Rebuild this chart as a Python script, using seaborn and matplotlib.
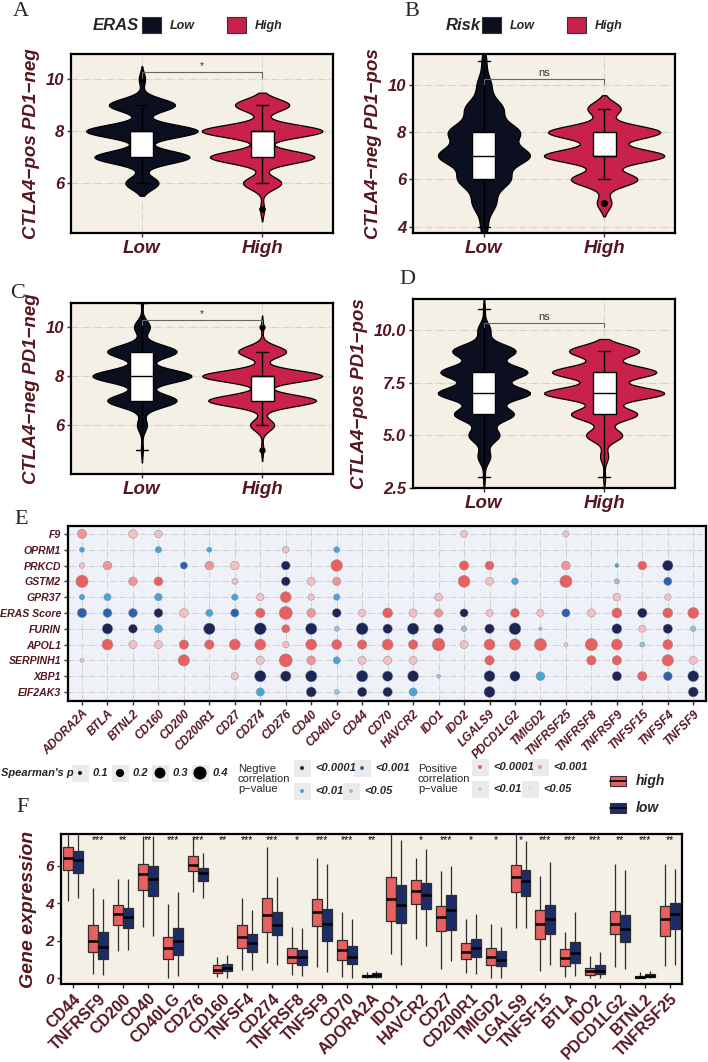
import numpy as np
import pandas as pd
import matplotlib
matplotlib.use("Agg")
import matplotlib.pyplot as plt
from matplotlib.patches import Patch, Rectangle
import seaborn as sns

sns.set_theme(style="white")
plt.rcParams["font.family"] = ["Liberation Sans", "DejaVu Sans"]

W, H = 708, 1062
MAROON = "#55171f"
LOW_C = "#0b0f1f"
HIGH_C = "#c8224a"
BEIGE = "#f4f0e6"
GRID = "#d2d2d2"

# ---------------- violin panels: score levels and number of samples at each level
groups = ["Low", "High"]
a_low_vals, a_low_n = [6, 7, 8, 9, 10], [16, 46, 54, 32, 3]
a_high_vals, a_high_n = [5, 6, 7, 8, 9], [2, 19, 52, 60, 27]
b_low_vals, b_low_n = [4, 5, 6, 7, 8, 9, 10, 11], [3, 10, 22, 39, 30, 16, 6, 2]
b_high_vals, b_high_n = [5, 6, 7, 8, 9], [7, 32, 58, 54, 16]
c_low_vals, c_low_n = [5, 6, 7, 8, 9, 10, 11], [1, 5, 35, 50, 35, 8, 1]
c_high_vals, c_high_n = [5, 6, 7, 8, 9, 10], [1, 10, 45, 50, 20, 1]
d_low_vals, d_low_n = [3, 4, 5, 6, 7, 8, 9, 10, 11], [1, 7, 17, 33, 51, 48, 35, 7, 1]
d_high_vals, d_high_n = [3, 4, 5, 6, 7, 8, 9], [1, 4, 18, 33, 60, 52, 35]

# ---------------- panel E: spearman rho (signed) and p level (4:<0.0001 3:<0.001 2:<0.01 1:<0.05)
icp_genes = ["ADORA2A", "BTLA", "BTNL2", "CD160", "CD200", "CD200R1", "CD27", "CD274",
             "CD276", "CD40", "CD40LG", "CD44", "CD70", "HAVCR2", "IDO1", "IDO2", "LGALS9",
             "PDCD1LG2", "TMIGD2", "TNFRSF25", "TNFRSF8", "TNFRSF9", "TNFSF15", "TNFSF4", "TNFSF9"]
row_genes = ["F9", "OPRM1", "PRKCD", "GSTM2", "GPR37", "ERAS Score", "FURIN", "APOL1",
             "SERPINH1", "XBP1", "EIF2AK3"]

dots_F9 = [("ADORA2A", .24, 3), ("BTNL2", .22, 2), ("CD160", .18, 2), ("IDO2", .17, 2),
           ("TNFRSF25", .15, 2)]
dots_OPRM1 = [("ADORA2A", -.12, 2), ("CD160", -.15, 2), ("CD200R1", -.12, 2), ("CD276", .16, 2),
              ("CD40LG", -.14, 2)]
dots_PRKCD = [("ADORA2A", .13, 2), ("BTLA", .22, 3), ("CD200", -.17, 3), ("CD200R1", .22, 3),
              ("CD27", .22, 2), ("CD276", -.22, 4), ("CD40LG", .33, 4), ("IDO2", .24, 4),
              ("LGALS9", .22, 4), ("TNFRSF25", .22, 3), ("TNFRSF9", -.1, 2), ("TNFSF15", .22, 4),
              ("TNFSF4", -.28, 4)]
dots_GSTM2 = [("ADORA2A", .36, 4), ("BTNL2", .22, 3), ("CD160", .22, 4), ("CD27", .14, 2),
              ("CD276", -.22, 4), ("CD40", .2, 2), ("CD40LG", .2, 3), ("IDO2", .34, 4),
              ("LGALS9", .2, 2), ("PDCD1LG2", -.16, 2), ("TNFRSF25", .36, 4), ("TNFRSF9", -.12, 1),
              ("TNFSF4", -.2, 3)]
dots_GPR37 = [("ADORA2A", -.13, 2), ("BTLA", -.17, 2), ("CD160", -.18, 2), ("CD27", -.15, 2),
              ("CD274", .18, 2), ("CD276", .3, 4), ("CD40", .15, 2), ("CD40LG", -.15, 2),
              ("IDO1", .19, 2), ("TNFRSF9", .19, 2), ("TNFSF4", .15, 2)]
dots_ERAS = [("ADORA2A", -.24, 3), ("BTLA", -.22, 3), ("BTNL2", -.22, 3), ("CD160", -.22, 4),
             ("CD200", .22, 2), ("CD200R1", -.17, 2), ("CD27", -.2, 3), ("CD274", .24, 4),
             ("CD276", .42, 4), ("CD40", .22, 3), ("CD40LG", -.22, 4), ("CD44", .18, 2),
             ("CD70", .26, 4), ("HAVCR2", .2, 2), ("IDO1", .2, 3), ("IDO2", -.2, 4),
             ("LGALS9", .17, 2), ("PDCD1LG2", .22, 4), ("TMIGD2", .17, 2), ("TNFRSF25", -.2, 3),
             ("TNFRSF8", .2, 2), ("TNFRSF9", .26, 4), ("TNFSF15", -.24, 4), ("TNFSF4", .26, 4),
             ("TNFSF9", .3, 4)]
dots_FURIN = [("BTLA", -.28, 4), ("BTNL2", -.22, 4), ("CD160", -.2, 2), ("CD200R1", -.32, 4),
              ("CD274", -.34, 4), ("CD276", .2, 4), ("CD40", -.32, 4), ("CD40LG", -.12, 1),
              ("CD44", -.34, 4), ("CD70", -.24, 4), ("HAVCR2", -.32, 4), ("IDO1", -.24, 4),
              ("IDO2", -.13, 1), ("LGALS9", -.24, 4), ("PDCD1LG2", -.34, 4), ("TMIGD2", -.09, 1),
              ("TNFRSF9", -.26, 4), ("TNFSF15", .17, 2), ("TNFSF4", -.24, 4), ("TNFSF9", -.13, 1)]
dots_APOL1 = [("BTLA", .3, 4), ("BTNL2", .2, 2), ("CD160", .2, 2), ("CD200", .24, 4),
              ("CD200R1", .24, 4), ("CD27", .3, 4), ("CD274", .3, 4), ("CD276", .15, 2),
              ("CD40", .3, 4), ("CD40LG", .26, 4), ("CD44", .24, 4), ("CD70", .3, 4),
              ("HAVCR2", .24, 4), ("IDO1", .38, 4), ("IDO2", .2, 2), ("LGALS9", .3, 4),
              ("PDCD1LG2", .32, 4), ("TMIGD2", .36, 4), ("TNFRSF25", .1, 2), ("TNFRSF8", .36, 4),
              ("TNFRSF9", .3, 4), ("TNFSF15", -.12, 1), ("TNFSF4", .26, 4)]
dots_SERPINH1 = [("ADORA2A", .1, 2), ("CD200", .32, 4), ("CD274", .2, 2), ("CD276", .4, 4),
                 ("CD40", .22, 3), ("CD40LG", -.17, 2), ("CD44", .2, 2), ("CD70", .2, 2),
                 ("HAVCR2", .2, 2), ("LGALS9", .24, 4), ("TNFRSF8", .24, 4), ("TNFRSF9", .24, 4),
                 ("TNFSF4", .32, 4), ("TNFSF9", .2, 2)]
dots_XBP1 = [("CD27", .18, 2), ("CD274", -.32, 4), ("CD276", -.28, 4), ("CD40", -.32, 4),
             ("CD44", -.32, 4), ("CD70", -.27, 4), ("HAVCR2", -.3, 4), ("IDO1", -.1, 1),
             ("LGALS9", -.3, 4), ("PDCD1LG2", -.27, 4), ("TMIGD2", -.22, 2), ("TNFRSF9", -.24, 4),
             ("TNFSF15", .24, 4), ("TNFSF4", -.22, 3), ("TNFSF9", -.3, 4)]
dots_EIF2AK3 = [("CD274", -.2, 2), ("CD40", -.26, 4), ("CD40LG", -.12, 1), ("CD44", -.24, 4),
                ("CD70", -.24, 4), ("HAVCR2", -.2, 2), ("LGALS9", -.3, 4), ("TNFSF9", -.26, 4)]
dot_rows = [dots_F9, dots_OPRM1, dots_PRKCD, dots_GSTM2, dots_GPR37, dots_ERAS, dots_FURIN,
            dots_APOL1, dots_SERPINH1, dots_XBP1, dots_EIF2AK3]

neg_colors = {4: "#1b2657", 3: "#2b62ab", 2: "#47a3d8", 1: "#8fc2df"}
pos_colors = {4: "#e8605f", 3: "#ee9597", 2: "#f4bfc0", 1: "#f8dada"}

# ---------------- panel F: five-number summaries [min, q1, median, q3, max]
f_genes = ["CD44", "TNFRSF9", "CD200", "CD40", "CD40LG", "CD276", "CD160", "TNFSF4", "CD274",
           "TNFRSF8", "TNFSF9", "CD70", "ADORA2A", "IDO1", "HAVCR2", "CD27", "CD200R1", "TMIGD2",
           "LGALS9", "TNFSF15", "BTLA", "IDO2", "PDCD1LG2", "BTNL2", "TNFRSF25"]
f_high = [[4.1, 5.8, 6.4, 7.0, 7.7], [0.2, 1.4, 2.0, 2.85, 4.8], [1.45, 2.85, 3.4, 3.9, 5.3],
          [2.75, 4.7, 5.55, 6.1, 7.6], [0.0, 1.0, 1.6, 2.2, 3.95], [4.6, 5.7, 6.05, 6.5, 7.5],
          [0.05, 0.28, 0.43, 0.68, 1.15], [0.45, 1.6, 2.2, 2.85, 4.3], [0.8, 2.45, 3.35, 4.3, 7.0],
          [0.15, 0.8, 1.15, 1.6, 2.75], [0.6, 2.8, 3.55, 4.25, 6.4], [0.05, 0.95, 1.5, 2.05, 3.55],
          [0.0, 0.05, 0.1, 0.15, 0.3], [1.3, 3.05, 4.2, 5.4, 7.7], [2.1, 3.95, 4.65, 5.25, 6.4],
          [0.5, 2.5, 3.25, 3.85, 5.7], [0.25, 1.0, 1.4, 1.88, 3.15], [0.0, 0.67, 1.14, 1.59, 2.87],
          [2.65, 4.6, 5.4, 6.05, 7.7], [0.35, 2.1, 2.87, 3.65, 5.45], [0.05, 0.65, 1.09, 1.53, 2.47],
          [0.0, 0.17, 0.35, 0.53, 1.18], [0.58, 2.38, 2.87, 3.6, 6.1], [0.0, 0.02, 0.05, 0.1, 0.3],
          [0.65, 2.25, 3.17, 3.84, 6.1]]
f_low = [[4.3, 5.6, 6.3, 6.8, 7.7], [0.15, 1.0, 1.65, 2.45, 4.25], [1.5, 2.7, 3.25, 3.75, 5.3],
         [2.25, 4.4, 5.3, 6.0, 7.6], [0.1, 1.25, 2.0, 2.7, 4.6], [4.3, 5.2, 5.6, 5.9, 6.7],
         [0.0, 0.35, 0.55, 0.75, 1.25], [0.45, 1.4, 1.85, 2.38, 3.65], [0.7, 2.28, 2.85, 3.52, 5.4],
         [0.1, 0.7, 1.1, 1.5, 2.65], [0.3, 2.0, 2.9, 3.7, 6.1], [0.0, 0.75, 1.15, 1.7, 3.15],
         [0.0, 0.08, 0.15, 0.25, 0.4], [0.7, 2.94, 3.9, 4.95, 7.4], [1.72, 3.67, 4.45, 5.1, 6.9],
         [0.92, 2.59, 3.65, 4.45, 6.0], [0.23, 1.11, 1.59, 2.06, 3.44], [0.0, 0.62, 0.95, 1.46, 2.73],
         [2.7, 4.4, 5.2, 5.75, 7.3], [0.7, 2.38, 3.17, 3.93, 6.2], [0.09, 0.79, 1.32, 1.9, 3.52],
         [0.0, 0.23, 0.4, 0.7, 1.41], [0.46, 1.94, 2.64, 3.35, 5.8], [0.0, 0.05, 0.1, 0.2, 0.4],
         [0.7, 2.64, 3.44, 4.0, 5.85]]
f_stars = ["", "***", "**", "**", "***", "***", "**", "***", "***", "*", "***", "***", "**", "",
           "*", "***", "*", "*", "*", "***", "***", "***", "**", "***", "**"]
F_HIGH, F_LOW = "#e8605f", "#1c2c66"

fig = plt.figure(figsize=(W / 100, H / 100), dpi=100)


def px_axes(x0, y0, x1, y1):
    return fig.add_axes([x0 / W, 1 - y1 / H, (x1 - x0) / W, (y1 - y0) / H])


def frame(ax, bg):
    ax.set_facecolor(bg)
    for s in ax.spines.values():
        s.set_visible(True)
        s.set_color("black")
        s.set_linewidth(1.6)
    ax.tick_params(axis="both", which="both", length=3, width=1, color="#333333",
                   bottom=True, left=True, pad=2)


def violin_panel(ax, lv, ln, hv, hn, ylabel, yticks, ylim, bw, sig, sig_y, fmt="{:g}",
                 norm="area"):
    df = pd.DataFrame({
        "group": ["Low"] * sum(ln) + ["High"] * sum(hn),
        "score": np.concatenate([np.repeat(lv, ln), np.repeat(hv, hn)]).astype(float),
    })
    sns.violinplot(data=df, x="group", y="score", hue="group", order=groups, hue_order=groups,
                   palette=[LOW_C, HIGH_C], saturation=1, inner=None, bw_method=bw, cut=2,
                   width=1.0, density_norm=norm, common_norm=True, linewidth=0.9,
                   linecolor="black", legend=False, ax=ax)
    sns.boxplot(data=df, x="group", y="score", order=groups, width=0.19, color="white",
                saturation=1, linecolor="black", linewidth=1.0, fliersize=3.5,
                flierprops={"marker": "o", "markerfacecolor": "black",
                            "markeredgecolor": "black"}, ax=ax)
    frame(ax, BEIGE)
    ax.set_xlim(-0.59, 1.59)
    ax.set_ylim(*ylim)
    ax.set_yticks(yticks, [fmt.format(t) for t in yticks], fontsize=12, fontweight="bold",
                  fontstyle="italic", color=MAROON)
    ax.set_xticks([0, 1], groups, fontsize=13.5, fontweight="bold", fontstyle="italic",
                  color=MAROON)
    ax.grid(True, linestyle="-.", color=GRID, linewidth=0.8)
    ax.set_axisbelow(True)
    ax.set_xlabel("")
    ax.set_ylabel(ylabel, fontsize=13.5, fontweight="bold", fontstyle="italic", color=MAROON,
                  labelpad=4)
    tip = 0.22 if sig == "*" else 0.2
    ax.plot([0, 0, 1, 1], [sig_y - tip, sig_y, sig_y, sig_y - tip], color="#666666", lw=0.8)
    ax.text(0.5, sig_y + 0.05, sig, ha="center", va="bottom", fontsize=8 if sig == "ns" else 7,
            color="#333333")


axA = px_axes(71, 54, 333, 233)
violin_panel(axA, a_low_vals, a_low_n, a_high_vals, a_high_n, "CTLA4\u2212pos PD1\u2212neg",
             [6, 8, 10], (4.08, 10.96), 0.25, "*", 10.27)
axB = px_axes(413, 54, 675, 233)
violin_panel(axB, b_low_vals, b_low_n, b_high_vals, b_high_n, "CTLA4\u2212neg PD1\u2212pos",
             [4, 6, 8, 10], (3.73, 11.31), 0.28, "ns", 10.25, norm="count")
axC = px_axes(71, 303, 333, 474)
violin_panel(axC, c_low_vals, c_low_n, c_high_vals, c_high_n, "CTLA4\u2212neg PD1\u2212neg",
             [6, 8, 10], (4.0, 10.98), 0.26, "*", 10.29)
axD = px_axes(413, 299, 675, 488)
violin_panel(axD, d_low_vals, d_low_n, d_high_vals, d_high_n, "CTLA4\u2212pos PD1\u2212pos",
             [2.5, 5.0, 7.5, 10.0], (2.5, 11.47), 0.22, "ns", 10.35, fmt="{:.1f}")

# legends of A and B
for title, tx, lx in [("ERAS", 93, 142), ("Risk", 446, 482)]:
    fig.text(tx / W, 1 - 25 / H, title, fontsize=12, fontweight="bold", fontstyle="italic",
             va="center", ha="left")
    handles = [Patch(facecolor=LOW_C, edgecolor="#333333", linewidth=0.8),
               Patch(facecolor=HIGH_C, edgecolor="#333333", linewidth=0.8)]
    fig.legend(handles, groups, loc="center left", bbox_to_anchor=(lx / W, 1 - 25 / H),
               ncol=2, frameon=False, borderpad=0, borderaxespad=0, handlelength=1.5,
               handleheight=1.5, handletextpad=0.7, columnspacing=2.6,
               prop={"weight": "bold", "style": "italic", "size": 9})

# ---------------- panel E
recs = []
for gi, row in enumerate(dot_rows):
    for name, rho, lev in row:
        recs.append({"xi": icp_genes.index(name), "yi": gi, "rho": rho, "absrho": abs(rho),
                     "cat": ("neg" if rho < 0 else "pos") + str(lev)})
dots = pd.DataFrame(recs)
cat_pal = {**{"neg" + str(k): v for k, v in neg_colors.items()},
           **{"pos" + str(k): v for k, v in pos_colors.items()}}
SIZE_NORM, SIZE_RANGE = (0.07, 0.4), (0, 88)

axE = px_axes(68, 526, 706, 701)
sns.scatterplot(data=dots, x="xi", y="yi", hue="cat", palette=cat_pal, size="absrho",
                sizes=SIZE_RANGE, size_norm=SIZE_NORM, edgecolor="#8c8c8c", linewidth=0.3,
                legend=False, ax=axE)
frame(axE, "#eef2f8")
axE.set_xlim(-0.55, len(icp_genes) - 0.5)
axE.set_ylim(len(row_genes) - 0.43, -0.5)
axE.set_xticks(range(len(icp_genes)), icp_genes, rotation=45, ha="right",
               rotation_mode="anchor", fontsize=8.5, fontweight="bold", fontstyle="italic",
               color=MAROON)
axE.set_yticks(range(len(row_genes)), row_genes, fontsize=7.6, fontweight="bold",
               fontstyle="italic", color=MAROON)
axE.grid(True, linestyle="-.", color=GRID, linewidth=0.7)
axE.set_axisbelow(True)
axE.set_xlabel("")
axE.set_ylabel("")

# legend row for E and F (pixel coordinates)
axL = fig.add_axes([0, 0, 1, 1], facecolor="none")
axL.set_xlim(0, W)
axL.set_ylim(H, 0)
axL.axis("off")


def key(x, y, color, val):
    axL.add_patch(Rectangle((x - 8.5, y - 8.5), 17, 17, facecolor="#ebebeb", edgecolor="none"))
    s = SIZE_RANGE[1] * (val - SIZE_NORM[0]) / (SIZE_NORM[1] - SIZE_NORM[0])
    axL.scatter([x], [y], s=s, color=color, edgecolor="none")


lab = {"fontsize": 8, "fontweight": "bold", "fontstyle": "italic", "va": "center"}
axL.text(1, 773, "Spearman's p", **lab)
for v, x in zip([0.1, 0.2, 0.3, 0.4], [80, 120, 160, 200]):
    key(x, 773, "black", v)
    axL.text(x + 13, 773, str(v), **lab)
axL.text(238, 779, "Negtive\ncorrelation\np\u2212value", fontsize=8, va="center",
         linespacing=0.95)
axL.text(418, 779, "Positive\ncorrelation\np\u2212value", fontsize=8, va="center",
         linespacing=0.95)
p_labels = {4: "<0.0001", 3: "<0.001", 2: "<0.01", 1: "<0.05"}
neg_pos = {4: (302, 768), 3: (362, 768), 2: (302, 791), 1: (351, 791)}
pos_pos = {4: (480, 767), 3: (540, 767), 2: (480, 789), 1: (530, 789)}
for lev in [4, 3, 2, 1]:
    for cols, where in [(neg_colors, neg_pos), (pos_colors, pos_pos)]:
        x, y = where[lev]
        key(x, y, cols[lev], 0.1)
        axL.text(x + 13, y, p_labels[lev], **lab)

for lbl, col, y in [("high", F_HIGH, 781), ("low", F_LOW, 808)]:
    axL.add_patch(Rectangle((610, y - 5), 16, 10, facecolor=col, edgecolor="#333333",
                            linewidth=0.8))
    axL.plot([610, 626], [y, y], color="black", lw=1.2)
    axL.text(636, y, lbl, fontsize=10, fontweight="bold", fontstyle="italic", va="center")

# ---------------- panel F
frows = []
for gene, hs, ls in zip(f_genes, f_high, f_low):
    frows += [{"gene": gene, "group": "high", "expr": v} for v in hs]
    frows += [{"gene": gene, "group": "low", "expr": v} for v in ls]
fdf = pd.DataFrame(frows)

axF = px_axes(61, 834, 682, 984)
sns.boxplot(data=fdf, x="gene", y="expr", hue="group", order=f_genes, hue_order=["high", "low"],
            palette=[F_HIGH, F_LOW], saturation=1, width=0.8, gap=0, whis=(0, 100),
            showfliers=False, linecolor="#2e2e2e", linewidth=0.9,
            medianprops={"color": "black", "linewidth": 1.8}, capprops={"visible": False},
            legend=False, ax=axF)
frame(axF, BEIGE)
axF.set_ylim(-0.32, 7.7)
axF.set_xlim(-0.5, len(f_genes) - 0.5)
axF.set_yticks([0, 2, 4, 6], ["0", "2", "4", "6"], fontsize=11, fontweight="bold",
               fontstyle="italic", color=MAROON)
axF.set_xticks(range(len(f_genes)), f_genes, rotation=45, ha="right", rotation_mode="anchor",
               fontsize=11.5, fontweight="bold", color=MAROON)
axF.set_xlabel("")
axF.set_ylabel("Gene expression", fontsize=14, fontweight="bold", fontstyle="italic",
               color=MAROON, labelpad=6)
for i, st in enumerate(f_stars):
    if st:
        axF.text(i, 7.38, st, ha="center", va="center", fontsize=7.5, color="black")

# panel letters
for letter, x, y in [("A", 21, 11), ("B", 412, 11), ("C", 18, 294), ("D", 407, 280),
                     ("E", 21, 519), ("F", 23, 808)]:
    fig.text(x / W, 1 - y / H, letter, fontsize=16, family=["Liberation Serif", "DejaVu Serif"],
             ha="center", va="center")

fig.savefig("out.png", dpi=100)
